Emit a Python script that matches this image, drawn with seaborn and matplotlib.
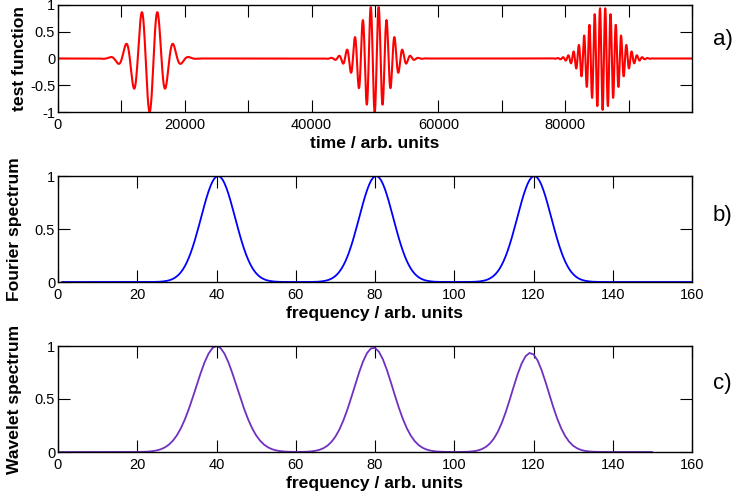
import numpy as np
import pandas as pd
import matplotlib
matplotlib.use("Agg")
import matplotlib.pyplot as plt
import seaborn as sns

# --- values ---
# a) test function: three Gaussian wave packets
packet_centers = [14450, 49950, 85900]      # time / arb. units
packet_freqs = [40, 80, 120]                # cycles per 100000 time units
packet_amplitudes = [1.0, 1.0, 0.96]
packet_width = 2300                          # Gaussian sigma in time units
time_max = 100000

# b) Fourier spectrum peaks
fourier_peaks = [40.4, 80.3, 120.2]
fourier_heights = [1.0, 1.0, 1.0]
fourier_width = 4.3

# c) wavelet spectrum peaks (coarser sampling, ends at 150)
wavelet_peaks = [40.0, 79.6, 119.2]
wavelet_heights = [1.0, 0.985, 0.935]
wavelet_widths = [5.2, 4.9, 4.6]
wavelet_step = 1
wavelet_max = 150

time_ticks = list(range(0, 100001, 10000))
time_labels = [str(v) if v % 20000 == 0 and v < 100000 else "" for v in time_ticks]
test_yticks = [-1, -0.5, 0, 0.5, 1]
test_ylabels = ["-1", "-0.5", "0", "0.5", "1"]
freq_ticks = list(range(0, 161, 20))
spec_yticks = [0, 0.5, 1]
spec_ylabels = ["0", "0.5", "1"]
panel_tags = ["a)", "b)", "c)"]


def build_test_function():
    t = np.arange(0, time_max + 1, 50)
    y = np.zeros_like(t, dtype=float)
    for c, f, a in zip(packet_centers, packet_freqs, packet_amplitudes):
        env = np.exp(-0.5 * ((t - c) / packet_width) ** 2)
        y -= a * env * np.cos(2 * np.pi * f * (t - c) / time_max)
    return pd.DataFrame({"time": t, "value": y})


def build_spectrum(freq, peaks, heights, widths):
    s = np.zeros_like(freq, dtype=float)
    for p, h, w in zip(peaks, heights, widths):
        s += h * np.exp(-0.5 * ((freq - p) / w) ** 2)
    return pd.DataFrame({"frequency": freq, "value": s})


sns.set_theme(style="ticks")
plt.rcParams["font.family"] = ["Liberation Sans", "DejaVu Sans"]
plt.rcParams["axes.unicode_minus"] = False
plt.rcParams["text.color"] = "black"
plt.rcParams["axes.labelcolor"] = "black"

W, H = 736, 498
fig = plt.figure(figsize=(W / 100, H / 100), dpi=100)


def add_panel(top_px, bottom_px):
    left, right = 58, 692
    return fig.add_axes([left / W, 1 - bottom_px / H, (right - left) / W, (bottom_px - top_px) / H])


ax_a = add_panel(5, 112)
ax_b = add_panel(176, 282)
ax_c = add_panel(346, 452)

test_df = build_test_function()
fourier_df = build_spectrum(np.arange(1, 161, 0.5), fourier_peaks, fourier_heights,
                            [fourier_width] * 3)
wavelet_df = build_spectrum(np.arange(0, wavelet_max + 1, wavelet_step), wavelet_peaks,
                            wavelet_heights, wavelet_widths)

sns.lineplot(data=test_df, x="time", y="value", ax=ax_a, color="#ff0000",
             linewidth=1.5, estimator=None)
sns.lineplot(data=fourier_df, x="frequency", y="value", ax=ax_b, color="#0000ff",
             linewidth=1.3, estimator=None)
sns.lineplot(data=wavelet_df, x="frequency", y="value", ax=ax_c, color="#7030c0",
             linewidth=1.3, estimator=None)

ax_a.set_xlim(0, time_max)
ax_a.set_ylim(-1, 1)
ax_a.set_xticks(time_ticks, time_labels)
ax_a.set_yticks(test_yticks, test_ylabels)
ax_a.set_xlabel("time / arb. units")
ax_a.set_ylabel("test function")

for ax, name in [(ax_b, "Fourier spectrum"), (ax_c, "Wavelet spectrum")]:
    ax.set_xlim(0, 160)
    ax.set_ylim(0, 1)
    ax.set_xticks(freq_ticks, [str(v) for v in freq_ticks])
    ax.set_yticks(spec_yticks, spec_ylabels)
    ax.set_xlabel("frequency / arb. units")
    ax.set_ylabel(name)

for ax, ylab_x in zip([ax_a, ax_b, ax_c], [-0.06, -0.068, -0.068]):
    ax.tick_params(direction="in", top=True, right=True, length=8.5, width=0.8,
                   labelsize=10.5, colors="black")
    ax.tick_params(axis="x", pad=4)
    ax.tick_params(axis="y", pad=2)
    for sp in ax.spines.values():
        sp.set_linewidth(1.0)
        sp.set_color("black")
    ax.xaxis.label.set_fontsize(12.6)
    ax.xaxis.label.set_fontweight("bold")
    ax.xaxis.label.set_va("center")
    ax.xaxis.set_label_coords(0.5, -31 / 106)
    ax.yaxis.label.set_fontsize(12.6)
    ax.yaxis.label.set_fontweight("bold")
    ax.yaxis.label.set_va("center")
    ax.yaxis.set_label_coords(ylab_x, 0.5)

for tag, y_px in zip(panel_tags, [40, 215, 383]):
    fig.text(713 / W, 1 - y_px / H, tag, fontsize=16, color="black", ha="left", va="center")

fig.savefig("out.png", dpi=100)
